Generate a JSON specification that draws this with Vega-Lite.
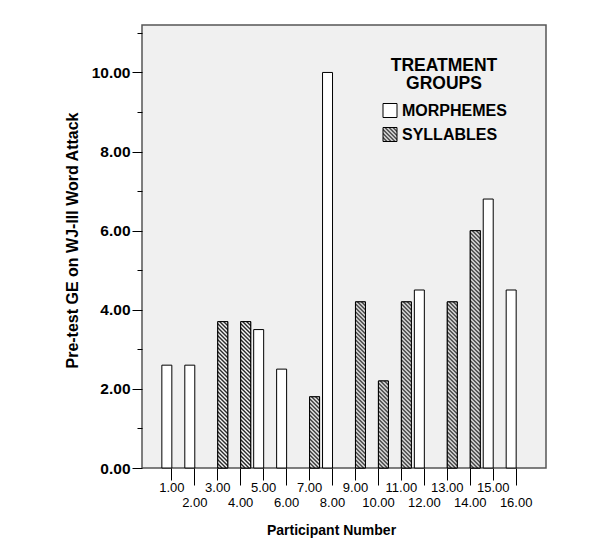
{
  "$schema": "https://vega.github.io/schema/vega-lite/v6.json",
  "width": 404,
  "height": 443,
  "autosize": {"type": "none"},
  "padding": {"left": 142, "top": 25, "right": 64, "bottom": 85},
  "background": "white",
  "params": [
    {"name": "hatchLegend", "value": {"gradient": "linear", "x1": 1, "y1": 0, "x2": 0, "y2": 1, "stops": [
      {"offset": 0, "color": "#222"}, {"offset": 0.0714, "color": "#fff"}, {"offset": 0.1429, "color": "#222"}, {"offset": 0.2143, "color": "#fff"},
      {"offset": 0.2857, "color": "#222"}, {"offset": 0.3571, "color": "#fff"}, {"offset": 0.4286, "color": "#222"}, {"offset": 0.5, "color": "#fff"},
      {"offset": 0.5714, "color": "#222"}, {"offset": 0.6429, "color": "#fff"}, {"offset": 0.7143, "color": "#222"}, {"offset": 0.7857, "color": "#fff"},
      {"offset": 0.8571, "color": "#222"}, {"offset": 0.9286, "color": "#fff"}, {"offset": 1, "color": "#222"}
    ]}},
    {"name": "hatch", "value": [
      {"offset": 0, "color": "#222"}, {"offset": 0.008, "color": "#fff"}, {"offset": 0.016, "color": "#222"}, {"offset": 0.024, "color": "#fff"},
      {"offset": 0.032, "color": "#222"}, {"offset": 0.04, "color": "#fff"}, {"offset": 0.048, "color": "#222"}, {"offset": 0.056, "color": "#fff"},
      {"offset": 0.064, "color": "#222"}, {"offset": 0.072, "color": "#fff"}, {"offset": 0.08, "color": "#222"}, {"offset": 0.088, "color": "#fff"},
      {"offset": 0.096, "color": "#222"}, {"offset": 0.104, "color": "#fff"}, {"offset": 0.112, "color": "#222"}, {"offset": 0.12, "color": "#fff"},
      {"offset": 0.128, "color": "#222"}, {"offset": 0.136, "color": "#fff"}, {"offset": 0.144, "color": "#222"}, {"offset": 0.152, "color": "#fff"},
      {"offset": 0.16, "color": "#222"}, {"offset": 0.168, "color": "#fff"}, {"offset": 0.176, "color": "#222"}, {"offset": 0.184, "color": "#fff"},
      {"offset": 0.192, "color": "#222"}, {"offset": 0.2, "color": "#fff"}, {"offset": 0.208, "color": "#222"}, {"offset": 0.216, "color": "#fff"},
      {"offset": 0.224, "color": "#222"}, {"offset": 0.232, "color": "#fff"}, {"offset": 0.24, "color": "#222"}, {"offset": 0.248, "color": "#fff"},
      {"offset": 0.256, "color": "#222"}, {"offset": 0.264, "color": "#fff"}, {"offset": 0.272, "color": "#222"}, {"offset": 0.28, "color": "#fff"},
      {"offset": 0.288, "color": "#222"}, {"offset": 0.296, "color": "#fff"}, {"offset": 0.304, "color": "#222"}, {"offset": 0.312, "color": "#fff"},
      {"offset": 0.32, "color": "#222"}, {"offset": 0.328, "color": "#fff"}, {"offset": 0.336, "color": "#222"}, {"offset": 0.344, "color": "#fff"},
      {"offset": 0.352, "color": "#222"}, {"offset": 0.36, "color": "#fff"}, {"offset": 0.368, "color": "#222"}, {"offset": 0.376, "color": "#fff"},
      {"offset": 0.384, "color": "#222"}, {"offset": 0.392, "color": "#fff"}, {"offset": 0.4, "color": "#222"}, {"offset": 0.408, "color": "#fff"},
      {"offset": 0.416, "color": "#222"}, {"offset": 0.424, "color": "#fff"}, {"offset": 0.432, "color": "#222"}, {"offset": 0.44, "color": "#fff"},
      {"offset": 0.448, "color": "#222"}, {"offset": 0.456, "color": "#fff"}, {"offset": 0.464, "color": "#222"}, {"offset": 0.472, "color": "#fff"},
      {"offset": 0.48, "color": "#222"}, {"offset": 0.488, "color": "#fff"}, {"offset": 0.496, "color": "#222"}, {"offset": 0.504, "color": "#fff"},
      {"offset": 0.512, "color": "#222"}, {"offset": 0.52, "color": "#fff"}, {"offset": 0.528, "color": "#222"}, {"offset": 0.536, "color": "#fff"},
      {"offset": 0.544, "color": "#222"}, {"offset": 0.552, "color": "#fff"}, {"offset": 0.56, "color": "#222"}, {"offset": 0.568, "color": "#fff"},
      {"offset": 0.576, "color": "#222"}, {"offset": 0.584, "color": "#fff"}, {"offset": 0.592, "color": "#222"}, {"offset": 0.6, "color": "#fff"},
      {"offset": 0.608, "color": "#222"}, {"offset": 0.616, "color": "#fff"}, {"offset": 0.624, "color": "#222"}, {"offset": 0.632, "color": "#fff"},
      {"offset": 0.64, "color": "#222"}, {"offset": 0.648, "color": "#fff"}, {"offset": 0.656, "color": "#222"}, {"offset": 0.664, "color": "#fff"},
      {"offset": 0.672, "color": "#222"}, {"offset": 0.68, "color": "#fff"}, {"offset": 0.688, "color": "#222"}, {"offset": 0.696, "color": "#fff"},
      {"offset": 0.704, "color": "#222"}, {"offset": 0.712, "color": "#fff"}, {"offset": 0.72, "color": "#222"}, {"offset": 0.728, "color": "#fff"},
      {"offset": 0.736, "color": "#222"}, {"offset": 0.744, "color": "#fff"}, {"offset": 0.752, "color": "#222"}, {"offset": 0.76, "color": "#fff"},
      {"offset": 0.768, "color": "#222"}, {"offset": 0.776, "color": "#fff"}, {"offset": 0.784, "color": "#222"}, {"offset": 0.792, "color": "#fff"},
      {"offset": 0.8, "color": "#222"}, {"offset": 0.808, "color": "#fff"}, {"offset": 0.816, "color": "#222"}, {"offset": 0.824, "color": "#fff"},
      {"offset": 0.832, "color": "#222"}, {"offset": 0.84, "color": "#fff"}, {"offset": 0.848, "color": "#222"}, {"offset": 0.856, "color": "#fff"},
      {"offset": 0.864, "color": "#222"}, {"offset": 0.872, "color": "#fff"}, {"offset": 0.88, "color": "#222"}, {"offset": 0.888, "color": "#fff"},
      {"offset": 0.896, "color": "#222"}, {"offset": 0.904, "color": "#fff"}, {"offset": 0.912, "color": "#222"}, {"offset": 0.92, "color": "#fff"},
      {"offset": 0.928, "color": "#222"}, {"offset": 0.936, "color": "#fff"}, {"offset": 0.944, "color": "#222"}, {"offset": 0.952, "color": "#fff"},
      {"offset": 0.96, "color": "#222"}, {"offset": 0.968, "color": "#fff"}, {"offset": 0.976, "color": "#222"}, {"offset": 0.984, "color": "#fff"},
      {"offset": 0.992, "color": "#222"}, {"offset": 1, "color": "#fff"}
    ]}
  ],
  "data": {"values": [
    {"P": 1, "group": "MORPHEMES", "value": 2.6},
    {"P": 2, "group": "MORPHEMES", "value": 2.6},
    {"P": 3, "group": "SYLLABLES", "value": 3.7},
    {"P": 4, "group": "SYLLABLES", "value": 3.7},
    {"P": 5, "group": "MORPHEMES", "value": 3.5},
    {"P": 6, "group": "MORPHEMES", "value": 2.5},
    {"P": 7, "group": "SYLLABLES", "value": 1.8},
    {"P": 8, "group": "MORPHEMES", "value": 10.0},
    {"P": 9, "group": "SYLLABLES", "value": 4.2},
    {"P": 10, "group": "SYLLABLES", "value": 2.2},
    {"P": 11, "group": "SYLLABLES", "value": 4.2},
    {"P": 12, "group": "MORPHEMES", "value": 4.5},
    {"P": 13, "group": "SYLLABLES", "value": 4.2},
    {"P": 14, "group": "SYLLABLES", "value": 6.0},
    {"P": 15, "group": "MORPHEMES", "value": 6.8},
    {"P": 16, "group": "MORPHEMES", "value": 4.5}
  ]},
  "layer": [
    {
      "mark": {"type": "bar", "stroke": "black", "strokeWidth": 1},
      "encoding": {
        "x": {"field": "P", "type": "ordinal",
          "scale": {"domain": [1,2,3,4,5,6,7,8,9,10,11,12,13,14,15,16], "paddingInner": 0.13, "paddingOuter": 0.865},
          "axis": {"orient": "bottom", "values": [1,3,5,7,9,11,13,15], "labelExpr": "format(datum.value, '.2f')", "labelAngle": 0, "tickSize": 12, "labelPadding": 1, "labelFontSize": 13, "title": null}},
        "xOffset": {"field": "group", "type": "nominal", "scale": {"domain": ["MORPHEMES", "SYLLABLES"], "paddingInner": 0, "paddingOuter": 0}},
        "y": {"field": "value", "type": "quantitative",
          "scale": {"domain": [0, 11.2], "nice": false},
          "axis": {"orient": "left", "values": [0,2,4,6,8,10], "format": ".2f", "tickSize": 10, "labelPadding": 2, "labelFontSize": 15.5, "labelFontWeight": "bold",
            "title": "Pre-test GE on WJ-III Word Attack", "titleFontSize": 16, "titleFontWeight": "bold", "titlePadding": 11, "titleY": 215}},
        "fill": {"field": "group", "type": "nominal",
          "scale": {"domain": ["MORPHEMES", "SYLLABLES"], "range": ["#ffffff", {"expr": "hatchLegend"}]},
          "legend": {"orient": "none", "legendX": 240, "legendY": 32, "title": ["TREATMENT", "GROUPS"],
            "encode": {"symbols": {"update": {"stroke": {"value": "black"}, "strokeWidth": {"value": 1}}}}}}
      }
    },
    {
      "transform": [{"filter": "datum.group === 'SYLLABLES'"}],
      "mark": {"type": "bar", "stroke": "black", "strokeWidth": 1,
        "fill": {"expr": "{gradient: 'linear', x1: 1, y1: 0, x2: 1 - 250*bandwidth('xOffset')/(pow(bandwidth('xOffset'),2) + pow(scale('y',0) - scale('y',datum.value),2)), y2: 250*(scale('y',0) - scale('y',datum.value))/(pow(bandwidth('xOffset'),2) + pow(scale('y',0) - scale('y',datum.value),2)), stops: hatch}"}},
      "encoding": {
        "x": {"field": "P", "type": "ordinal",
          "scale": {"domain": [1,2,3,4,5,6,7,8,9,10,11,12,13,14,15,16], "paddingInner": 0.13, "paddingOuter": 0.865},
          "axis": {"orient": "bottom", "values": [2,4,6,8,10,12,14,16], "labelExpr": "format(datum.value, '.2f')", "labelAngle": 0, "tickSize": 17, "labelPadding": 11, "labelFontSize": 13,
            "title": "Participant Number", "titleFontSize": 14, "titleFontWeight": "bold", "titlePadding": 14, "titleX": 189}},
        "xOffset": {"field": "group", "type": "nominal", "scale": {"domain": ["MORPHEMES", "SYLLABLES"], "paddingInner": 0, "paddingOuter": 0}},
        "y": {"field": "value", "type": "quantitative",
          "scale": {"domain": [0, 11.2], "nice": false},
          "axis": {"orient": "left", "values": [1,3,5,7,9,11], "tickSize": 5, "labels": false, "title": null}}
      }
    }
  ],
  "resolve": {"axis": {"x": "independent", "y": "independent"}},
  "config": {
    "view": {"stroke": "#555555", "strokeWidth": 1.5, "fill": "#f0f0f0"},
    "axis": {"grid": false, "domain": false, "tickColor": "black", "tickWidth": 1, "labelColor": "black", "titleColor": "black",
      "labelFont": "Liberation Sans", "titleFont": "Liberation Sans"},
    "legend": {"padding": 0, "titleFont": "Liberation Sans", "titleFontSize": 17.5, "titleFontWeight": "bold", "titleColor": "black",
      "titleAlign": "center", "titleAnchor": "middle", "titleLineHeight": 18, "titlePadding": 10,
      "labelFont": "Liberation Sans", "labelFontSize": 16, "labelFontWeight": "bold", "labelColor": "black",
      "symbolType": "square", "symbolSize": 196, "symbolStrokeColor": "black", "symbolStrokeWidth": 1, "labelOffset": 4, "rowPadding": 6}
  }
}
